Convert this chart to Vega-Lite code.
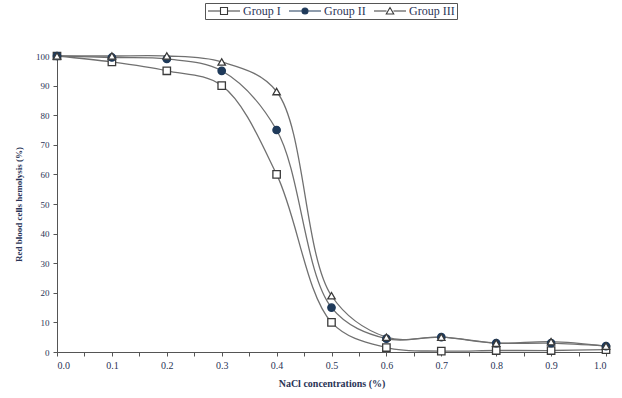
{
  "$schema": "https://vega.github.io/schema/vega-lite/v6.json",
  "width": 549,
  "height": 296,
  "autosize": {"type": "none"},
  "padding": {"left": 57, "top": 56, "right": 16, "bottom": 46},
  "background": "white",
  "config": {
    "view": {"stroke": null},
    "font": "Liberation Serif",
    "axis": {"labelColor": "#2a3456", "titleColor": "#2a3456", "domainColor": "#555", "tickColor": "#555", "grid": false, "labelFont": "Liberation Serif", "titleFont": "Liberation Serif"}
  },
  "data": {
    "values": [
      {"nacl": 0.0, "group": "Group I", "hemolysis": 100},
      {"nacl": 0.1, "group": "Group I", "hemolysis": 98},
      {"nacl": 0.2, "group": "Group I", "hemolysis": 95},
      {"nacl": 0.3, "group": "Group I", "hemolysis": 90},
      {"nacl": 0.4, "group": "Group I", "hemolysis": 60},
      {"nacl": 0.5, "group": "Group I", "hemolysis": 10},
      {"nacl": 0.6, "group": "Group I", "hemolysis": 1.5},
      {"nacl": 0.7, "group": "Group I", "hemolysis": 0.3},
      {"nacl": 0.8, "group": "Group I", "hemolysis": 0.5},
      {"nacl": 0.9, "group": "Group I", "hemolysis": 0.5},
      {"nacl": 1.0, "group": "Group I", "hemolysis": 0.8},
      {"nacl": 0.0, "group": "Group II", "hemolysis": 100},
      {"nacl": 0.1, "group": "Group II", "hemolysis": 99.5},
      {"nacl": 0.2, "group": "Group II", "hemolysis": 99},
      {"nacl": 0.3, "group": "Group II", "hemolysis": 95},
      {"nacl": 0.4, "group": "Group II", "hemolysis": 75},
      {"nacl": 0.5, "group": "Group II", "hemolysis": 15},
      {"nacl": 0.6, "group": "Group II", "hemolysis": 4.5},
      {"nacl": 0.7, "group": "Group II", "hemolysis": 5},
      {"nacl": 0.8, "group": "Group II", "hemolysis": 3},
      {"nacl": 0.9, "group": "Group II", "hemolysis": 3},
      {"nacl": 1.0, "group": "Group II", "hemolysis": 2},
      {"nacl": 0.0, "group": "Group III", "hemolysis": 100},
      {"nacl": 0.1, "group": "Group III", "hemolysis": 100},
      {"nacl": 0.2, "group": "Group III", "hemolysis": 100},
      {"nacl": 0.3, "group": "Group III", "hemolysis": 98},
      {"nacl": 0.4, "group": "Group III", "hemolysis": 88},
      {"nacl": 0.5, "group": "Group III", "hemolysis": 19},
      {"nacl": 0.6, "group": "Group III", "hemolysis": 5},
      {"nacl": 0.7, "group": "Group III", "hemolysis": 5},
      {"nacl": 0.8, "group": "Group III", "hemolysis": 3},
      {"nacl": 0.9, "group": "Group III", "hemolysis": 3.5},
      {"nacl": 1.0, "group": "Group III", "hemolysis": 2}
    ]
  },
  "encoding": {
    "x": {
      "field": "nacl", "type": "quantitative",
      "scale": {"domain": [0, 1], "nice": false, "zero": false},
      "axis": {
        "title": "NaCl concentrations (%)",
        "values": [0, 0.05, 0.1, 0.15, 0.2, 0.25, 0.3, 0.35, 0.4, 0.45, 0.5, 0.55, 0.6, 0.65, 0.7, 0.75, 0.8, 0.85, 0.9, 0.95, 1.0],
        "labelExpr": "round(datum.value*20)%2==0 ? format(datum.value, '.1f') : ''",
        "labelFontSize": 10, "titleFontSize": 10, "titleFontWeight": "bold",
        "tickSize": 4, "labelPadding": 4, "titlePadding": 8
      }
    },
    "y": {
      "field": "hemolysis", "type": "quantitative",
      "scale": {"domain": [0, 100], "nice": false},
      "axis": {
        "title": "Red blood cells hemolysis (%)",
        "values": [0, 10, 20, 30, 40, 50, 60, 70, 80, 90, 100],
        "labelFontSize": 9, "titleFontSize": 9, "titleFontWeight": "bold",
        "tickSize": 4, "labelPadding": 4, "titlePadding": 12
      }
    }
  },
  "layer": [
    {
      "mark": {"type": "line", "interpolate": "catmull-rom", "color": "#707070", "strokeWidth": 1.3},
      "encoding": {"detail": {"field": "group"}}
    },
    {
      "mark": {"type": "point", "size": 55, "strokeWidth": 1.3, "opacity": 1},
      "encoding": {
        "shape": {
          "field": "group", "type": "nominal",
          "scale": {"domain": ["Group I", "Group II", "Group III"], "range": ["square", "circle", "triangle-up"]},
          "legend": null
        },
        "fill": {
          "field": "group", "type": "nominal",
          "scale": {"domain": ["Group I", "Group II", "Group III"], "range": ["white", "#1f3a5a", "white"]},
          "legend": null
        },
        "stroke": {
          "field": "group", "type": "nominal",
          "scale": {"domain": ["Group I", "Group II", "Group III"], "range": ["#3a3a3a", "#1f3a5a", "#3a3a3a"]},
          "legend": null
        }
      }
    },
    {
      "transform": [{"filter": "datum.nacl > 5"}],
      "mark": {"type": "point", "strokeWidth": 1.1, "opacity": 1},
      "encoding": {
        "shape": {
          "field": "group", "type": "nominal",
          "scale": {
            "domain": ["Group I", "Group II", "Group III"],
            "range": [
              "M-3.2,0L-0.7,0M0.7,0L3.2,0M-0.7,-0.7L0.7,-0.7L0.7,0.7L-0.7,0.7Z",
              "M-3.2,0L-0.6,0M0.6,0L3.2,0M0.6,0A0.6,0.6,0,1,1,-0.6,0A0.6,0.6,0,1,1,0.6,0Z",
              "M-3.2,0L-0.7,0M0.7,0L3.2,0M0,-0.7L0.75,0.6L-0.75,0.6Z"
            ]
          },
          "legend": {
            "title": null,
            "orient": "none",
            "direction": "horizontal",
            "legendX": 148,
            "legendY": -53,
            "strokeColor": "#555",
            "padding": 2,
            "labelFont": "Liberation Serif",
            "labelFontSize": 12,
            "labelColor": "#2a3456",
            "symbolSize": 100,
            "symbolStrokeWidth": 1.1,
            "columnPadding": 5,
            "labelOffset": 13,
            "symbolOffset": 11
          }
        },
        "fill": {
          "field": "group", "type": "nominal",
          "scale": {"domain": ["Group I", "Group II", "Group III"], "range": ["white", "#1f3a5a", "white"]}
        },
        "stroke": {
          "field": "group", "type": "nominal",
          "scale": {"domain": ["Group I", "Group II", "Group III"], "range": ["#3a3a3a", "#1f3a5a", "#3a3a3a"]}
        }
      }
    }
  ],
  "resolve": {"scale": {"shape": "independent", "fill": "independent", "stroke": "independent"}}
}
